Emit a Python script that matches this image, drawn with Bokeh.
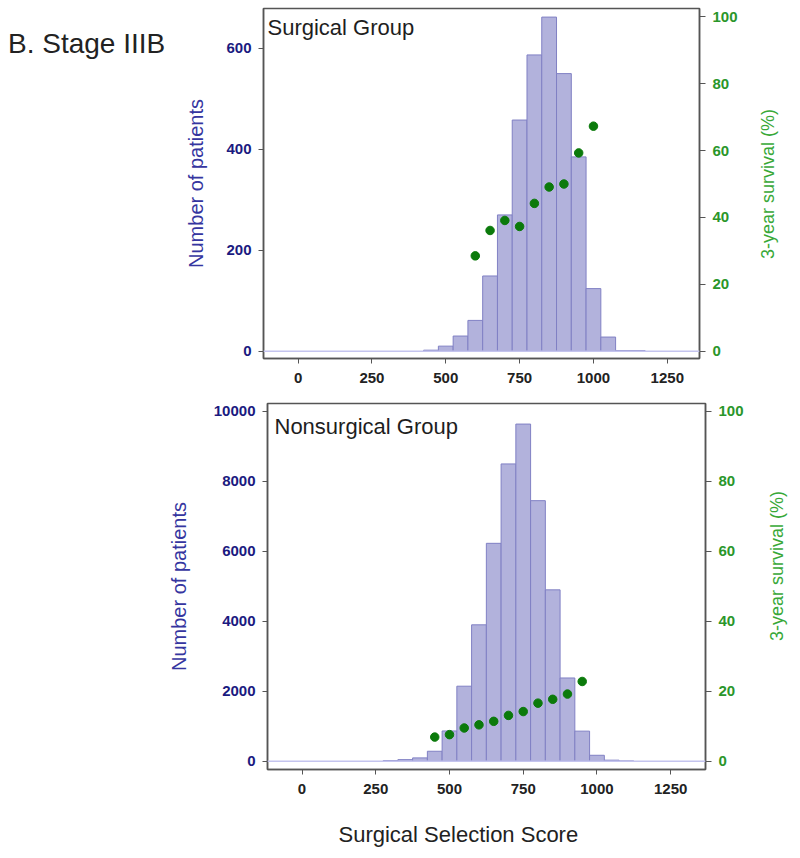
from bokeh.plotting import figure
from bokeh.models import (Range1d, LinearAxis, FixedTicker, Label, Span, ColumnDataSource,
                          Div, Spacer, Title)
from bokeh.layouts import column, row
from bokeh.embed import file_html
from bokeh.resources import INLINE

# ---------------- data ----------------
bin_width = 50
x_ticks = [0, 250, 500, 750, 1000, 1250]

surg_bins = [450, 500, 550, 600, 650, 700, 750, 800, 850, 900, 950, 1000, 1050, 1100, 1150]
surg_counts = [2, 10, 30, 61, 149, 270, 458, 587, 662, 550, 385, 124, 28, 1, 1]
surg_surv_x = [600, 650, 700, 750, 800, 850, 900, 950, 1000]
surg_surv_y = [28.5, 36.1, 39.1, 37.3, 44.2, 49.1, 50.0, 59.3, 67.3]

non_bins = [300, 350, 400, 450, 500, 550, 600, 650, 700, 750, 800, 850, 900, 950, 1000, 1050, 1100]
non_counts = [15, 45, 95, 285, 865, 2145, 3900, 6230, 8500, 9640, 7450, 4900, 2380, 860, 170, 30, 5]
non_surv_x = [450, 500, 550, 600, 650, 700, 750, 800, 850, 900, 950]
non_surv_y = [6.9, 7.6, 9.5, 10.4, 11.4, 13.1, 14.2, 16.6, 17.7, 19.2, 22.8]

surg_left_ticks = [0, 200, 400, 600]
non_left_ticks = [0, 2000, 4000, 6000, 8000, 10000]
right_ticks = [0, 20, 40, 60, 80, 100]

# ---------------- style ----------------
FONT = "Liberation Sans"
NAVY = "#1a1a80"
NAVY_LABEL = "#3535a0"
GREEN_TICK = "#2a962a"
GREEN_LABEL = "#38a838"
DOT = "#0b7a0b"
BAR_FILL = "#b2b2dc"
BAR_LINE = "#8080c4"
FRAME = "#555555"
LEFT_W_TOP = 172
LEFT_W_BOT = 160
RIGHT_W = 40


def make_panel(bins, counts, sx, sy, xr, yr, yr2, left_ticks, title,
               fw, fh, bl, br, bt, bb, left_standoff, title_dx, title_dy):
    p = figure(frame_width=fw, frame_height=fh, output_backend="svg",
               toolbar_location=None, x_range=Range1d(*xr), y_range=Range1d(*yr),
               min_border_left=bl, min_border_right=br, min_border_top=bt,
               min_border_bottom=bb, background_fill_color="white",
               border_fill_color="white")
    p.grid.visible = False
    p.outline_line_color = FRAME
    p.outline_line_width = 1.5

    src = ColumnDataSource(dict(x=bins, top=counts))
    p.vbar(x="x", top="top", bottom=0, width=bin_width, source=src,
           fill_color=BAR_FILL, line_color=BAR_LINE, line_width=1)
    p.add_layout(Span(location=0, dimension="width", line_color="#c4c4ee",
                      line_width=1.5))

    p.extra_y_ranges = {"surv": Range1d(*yr2)}
    p.scatter(x=sx, y=sy, y_range_name="surv", size=8.5, fill_color=DOT,
              line_color=DOT)

    # x axis
    xa = p.xaxis[0]
    xa.ticker = FixedTicker(ticks=x_ticks)
    xa.minor_tick_line_color = None
    xa.major_tick_out = 5
    xa.major_tick_in = 0
    xa.major_tick_line_color = FRAME
    xa.axis_line_color = FRAME
    xa.axis_line_width = 1.5
    xa.major_label_standoff = 9
    xa.major_label_text_font = FONT
    xa.major_label_text_font_style = "bold"
    xa.major_label_text_font_size = "15px"
    xa.major_label_text_color = "#222222"

    # left axis
    ya = p.yaxis[0]
    ya.ticker = FixedTicker(ticks=left_ticks)
    ya.minor_tick_line_color = None
    ya.major_tick_out = 5
    ya.major_tick_in = 0
    ya.major_tick_line_color = FRAME
    ya.axis_line_color = FRAME
    ya.axis_line_width = 1.5
    ya.major_label_standoff = 7
    ya.major_label_text_font = FONT
    ya.major_label_text_font_style = "bold"
    ya.major_label_text_font_size = "15px"
    ya.major_label_text_color = NAVY
    ya.axis_label = "Number of patients"
    ya.axis_label_text_font = FONT
    ya.axis_label_text_font_style = "normal"
    ya.axis_label_text_font_size = "20px"
    ya.axis_label_text_color = NAVY_LABEL
    ya.axis_label_standoff = left_standoff

    # right axis (its title is drawn beside the figure, reading bottom-to-top)
    ra = LinearAxis(y_range_name="surv", ticker=FixedTicker(ticks=right_ticks))
    ra.minor_tick_line_color = None
    ra.major_tick_out = 6
    ra.major_tick_in = 0
    ra.major_tick_line_color = FRAME
    ra.axis_line_color = FRAME
    ra.axis_line_width = 1.5
    ra.major_label_standoff = 7
    ra.major_label_text_font = FONT
    ra.major_label_text_font_style = "bold"
    ra.major_label_text_font_size = "15px"
    ra.major_label_text_color = GREEN_TICK
    p.add_layout(ra, "right")

    p.add_layout(Label(x=title_dx, y=fh - title_dy, x_units="screen", y_units="screen",
                       text=title, text_font=FONT, text_font_size="22px",
                       text_color="#1e1e1e", text_baseline="top", text_align="left"))
    return p


def right_title(cx, cy, h):
    box_w = 300
    return Div(text=(
        '<div style="width:%dpx; height:22px; line-height:22px; text-align:center; '
        'white-space:nowrap; font-family:\'Liberation Sans\', Arial, sans-serif; '
        'font-size:18px; color:%s; transform-origin:center; '
        'transform: translate(%.1fpx, %.1fpx) rotate(-90deg);">3-year survival (%%)</div>'
        % (box_w, GREEN_LABEL, cx - box_w / 2, cy - 11)),
        width=RIGHT_W, height=h, margin=0)


p1 = make_panel(surg_bins, surg_counts, surg_surv_x, surg_surv_y,
                (-117, 1359), (-14.5, 679), (-2.2, 102.5), surg_left_ticks,
                "Surgical Group", fw=436, fh=350, bl=263 - LEFT_W_TOP, br=51, bt=8, bb=34,
                left_standoff=16, title_dx=4, title_dy=6)

p2 = make_panel(non_bins, non_counts, non_surv_x, non_surv_y,
                (-117, 1368), (-237, 10228), (-2.37, 102.28), non_left_ticks,
                "Nonsurgical Group", fw=438, fh=366, bl=267 - LEFT_W_BOT, br=51, bt=11, bb=60,
                left_standoff=21, title_dx=7, title_dy=10)

p2.add_layout(Title(text="Surgical Selection Score", align="left", offset=71,
                    standoff=47, text_font=FONT, text_font_size="22px",
                    text_font_style="normal", text_color="#222222"), "below")

stage = Div(text='<div style="font-family: \'Liberation Sans\', Arial, sans-serif; '
                 'font-size: 28px; color: #222222; white-space: nowrap; '
                 'line-height: 32px; margin-top: 28px; margin-left: 8px;">B. Stage IIIB</div>',
            width=LEFT_W_TOP, height=80, margin=0)

r1 = right_title(18, 184, 392)
r2 = right_title(21, 174, 440)

layout = column(row(stage, p1, r1, spacing=0),
                row(Spacer(width=LEFT_W_BOT, height=10, margin=0), p2, r2, spacing=0),
                spacing=0)

with open("out.html", "w") as f:
    f.write(file_html(layout, INLINE))
